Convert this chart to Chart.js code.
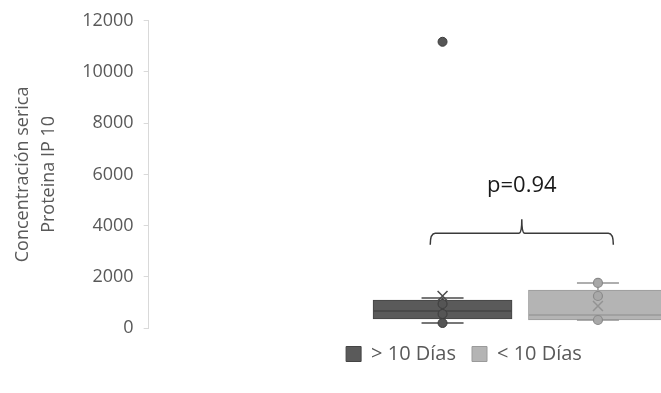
<!DOCTYPE html>
<html>
<head>
<meta charset="utf-8">
<script src="https://cdn.jsdelivr.net/npm/chart.js@4"></script>
<style>
    html, body { margin: 0; padding: 0; background: #fff; overflow: hidden; }
    /* the original chart is wider than the picture, the right part is cut off */
    #wrap { position: relative; width: 918px; height: 393px; }
</style>
</head>
<body>
<div id="wrap"><canvas id="chart"></canvas></div>
<script>
// Datos
const groups = ['> 10 Días', '< 10 Días'];
const groupX = [1.91, 2.92];
const q1 = [350, 313];
const q3 = [1094, 1485];
const medians = [665, 508];
const whiskerLow = [195, 313];
const whiskerHigh = [1170, 1760];
const means = [1250, 860];
const pointsDark = [195, 547, 938];
const pointsLight = [313, 1250, 1760];
const outliersDark = [11180];
const yTicks = [0, 2000, 4000, 6000, 8000, 10000, 12000];
const pValueText = 'p=0.94';

const fills = ['#5a5a5a', '#b4b4b4'];
const borders = ['#444444', '#9a9a9a'];
const markColors = ['#4a4a4a', '#939393'];

const font = "'Open Sans', sans-serif";

// Bigotes verticales (detras de las cajas)
const whiskerPlugin = {
    id: 'whiskers',
    beforeDatasetsDraw: function(chart) {
        const ctx = chart.ctx;
        const x = chart.scales.x, y = chart.scales.y;
        ctx.save();
        ctx.lineWidth = 1.5;
        groups.forEach((g, i) => {
            const px = x.getPixelForValue(groupX[i]);
            ctx.strokeStyle = markColors[i];
            ctx.beginPath();
            ctx.moveTo(px, y.getPixelForValue(whiskerLow[i]));
            ctx.lineTo(px, y.getPixelForValue(q1[i]));
            ctx.moveTo(px, y.getPixelForValue(q3[i]));
            ctx.lineTo(px, y.getPixelForValue(whiskerHigh[i]));
            ctx.stroke();
        });
        ctx.restore();
    }
};

// Llave con el valor p
const bracketPlugin = {
    id: 'bracket',
    afterDatasetsDraw: function(chart) {
        const ctx = chart.ctx;
        const x = chart.scales.x, y = chart.scales.y;
        const left = x.getPixelForValue(groupX[0] - 0.08);
        const right = x.getPixelForValue(groupX[1] + 0.1);
        const mid = (left + right) / 2;
        const yLine = y.getPixelForValue(3700);
        const yEnd = y.getPixelForValue(3250);
        const yTop = y.getPixelForValue(4250);
        ctx.save();
        ctx.strokeStyle = '#3a3a3a';
        ctx.lineWidth = 1.5;
        ctx.beginPath();
        ctx.moveTo(left, yEnd);
        ctx.quadraticCurveTo(left, yLine, left + 5, yLine);
        ctx.lineTo(mid - 3, yLine);
        ctx.quadraticCurveTo(mid, yLine, mid, yTop);
        ctx.quadraticCurveTo(mid, yLine, mid + 3, yLine);
        ctx.lineTo(right - 5, yLine);
        ctx.quadraticCurveTo(right, yLine, right, yEnd);
        ctx.stroke();
        ctx.fillStyle = '#1a1a1a';
        ctx.font = "22px " + font;
        ctx.textAlign = 'center';
        ctx.textBaseline = 'middle';
        ctx.fillText(pValueText, mid, y.getPixelForValue(5550));
        ctx.restore();
    }
};

function pts(i, values) {
    return values.map(v => ({ x: groupX[i], y: v }));
}

const datasets = [];

// puntos, medias y valores atipicos (encima)
datasets.push({
    type: 'scatter', data: pts(0, pointsDark.concat(outliersDark)), order: 0,
    pointRadius: 4.5, backgroundColor: '#555555', borderColor: '#3c3c3c', borderWidth: 1
});
datasets.push({
    type: 'scatter', data: pts(1, pointsLight), order: 0,
    pointRadius: 4.5, backgroundColor: '#a8a8a8', borderColor: '#8a8a8a', borderWidth: 1.2
});
groups.forEach((g, i) => {
    datasets.push({
        type: 'scatter', data: pts(i, [means[i]]), order: 0,
        pointStyle: 'crossRot', pointRadius: 7, borderColor: markColors[i], borderWidth: 1.5
    });
    // topes de los bigotes
    datasets.push({
        type: 'scatter', data: pts(i, [whiskerLow[i], whiskerHigh[i]]), order: 1,
        pointStyle: 'line', pointRadius: 21, borderColor: markColors[i], borderWidth: 1.5
    });
    // mediana
    datasets.push({
        type: 'scatter', data: pts(i, [medians[i]]), order: 1,
        pointStyle: 'line', pointRadius: 69, borderColor: borders[i], borderWidth: 1.5
    });
});
// cajas
groups.forEach((g, i) => {
    datasets.push({
        type: 'bar', label: g, order: 2,
        data: [{ x: groupX[i], y: [q1[i], q3[i]] }],
        backgroundColor: fills[i], borderColor: borders[i],
        borderWidth: 1, borderSkipped: false, barThickness: 139, grouped: false
    });
});

new Chart(document.getElementById('chart'), {
    type: 'bar',
    data: { datasets: datasets },
    options: {
        responsive: true,
        maintainAspectRatio: false,
        animation: false,
        layout: { autoPadding: false, padding: { top: 20, left: 10, right: 0, bottom: 19 } },
        scales: {
            x: { type: 'linear', display: false, offset: false, min: 0, max: 5 },
            y: {
                min: 0, max: 12000,
                afterBuildTicks: function(axis) {
                    axis.ticks = yTicks.map(v => ({ value: v }));
                },
                border: { color: '#d9d9d9' },
                grid: { drawOnChartArea: false, drawTicks: true, tickLength: 5, color: '#d9d9d9' },
                ticks: {
                    color: '#595959', padding: 10, font: { family: font, size: 18 },
                    callback: v => String(v)
                },
                title: {
                    display: true,
                    text: ['Concentración serica', 'Proteina IP 10'],
                    color: '#595959',
                    font: { family: font, size: 18, lineHeight: 1.45 },
                    padding: { top: 0, bottom: 10 }
                }
            }
        },
        plugins: {
            tooltip: { enabled: false },
            legend: {
                position: 'bottom',
                labels: {
                    filter: item => item.text !== undefined,
                    color: '#595959',
                    boxWidth: 15, boxHeight: 15, padding: 16,
                    font: { family: font, size: 20 }
                }
            }
        }
    },
    plugins: [whiskerPlugin, bracketPlugin]
});
</script>
</body>
</html>
